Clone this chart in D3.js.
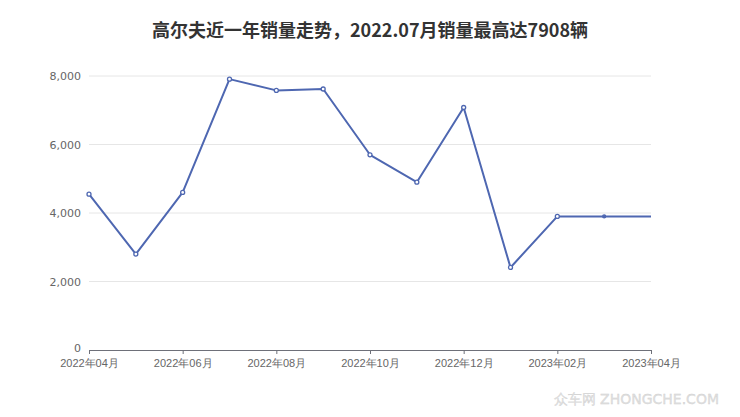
<!DOCTYPE html>
<html><head><meta charset="utf-8">
<script src="https://cdn.jsdelivr.net/npm/d3@7"></script>
<style>body{margin:0;background:#fff;}svg{display:block;font-family:"Noto Sans CJK SC","DejaVu Sans",sans-serif;}</style>
</head><body>
<svg id="c" width="740" height="417"></svg>
<script>
const months = ["2022年04月","2022年05月","2022年06月","2022年07月","2022年08月","2022年09月","2022年10月","2022年11月","2022年12月","2023年01月","2023年02月","2023年03月","2023年04月"];
const sales = [4550,2800,4600,7908,7580,7620,5700,4900,7080,2410,3900,3900,3900];
const tickLabels = ["2022年04月","2022年06月","2022年08月","2022年10月","2022年12月","2023年02月","2023年04月"];
const yTicks = [0,2000,4000,6000,8000];
const title = "高尔夫近一年销量走势，2022.07月销量最高达7908辆";

const svg = d3.select("#c");
const x = d3.scalePoint().domain(months).range([89,651]);
const y = d3.scaleLinear().domain([0,8000]).range([350,76]);

svg.append("text").attr("x",370).attr("y",37).attr("text-anchor","middle")
  .attr("font-size",18).attr("font-weight","bold").attr("fill","#333").text(title);

// grid
svg.append("g").selectAll("line").data(yTicks.filter(d=>d>0)).join("line")
  .attr("x1",89).attr("x2",651).attr("y1",d=>y(d)).attr("y2",d=>y(d))
  .attr("stroke","#e6e6e6").attr("stroke-width",1);

// y labels
const ya = svg.append("g").attr("transform","translate(89,0)")
  .call(d3.axisLeft(y).tickValues(yTicks).tickSize(0).tickPadding(8).tickFormat(d3.format(",")));
ya.select(".domain").remove();
ya.selectAll("text").attr("fill","#666").attr("font-size",11).attr("font-family","DejaVu Sans, sans-serif");
ya.selectAll(".tick").filter(d=>d===0).select("text").attr("dy","0.1em");

// x axis
const xa = svg.append("g").attr("transform","translate(0,350)")
  .call(d3.axisBottom(x).tickValues(tickLabels).tickSize(4).tickPadding(5));
xa.select(".domain").attr("stroke","#6e7079");
xa.selectAll(".tick line").attr("stroke","#6e7079");
xa.selectAll("text").attr("fill","#666").attr("font-size",11);

// line
const line = d3.line().x((d,i)=>x(months[i])).y(d=>y(d));
svg.append("path").datum(sales).attr("d",line).attr("fill","none")
  .attr("stroke","#4e67b1").attr("stroke-width",2).attr("stroke-linejoin","round");

svg.append("g").selectAll("circle").data(sales.slice(0,12)).join("circle")
  .attr("cx",(d,i)=>x(months[i])).attr("cy",d=>y(d))
  .attr("r",(d,i)=>i===11?1.5:2)
  .attr("fill",(d,i)=>i===11?"#4e67b1":"#fff").attr("stroke","#4e67b1").attr("stroke-width",1.3);

// watermark
svg.append("text").attr("x",719).attr("y",404).attr("text-anchor","end")
  .attr("font-size",14).attr("fill","#e0e0e0").attr("stroke","#cfcfcf").attr("stroke-width",0.3)
  .attr("font-family","DejaVu Sans, sans-serif").text("众车网 ZHONGCHE.COM");
</script>
</body></html>
